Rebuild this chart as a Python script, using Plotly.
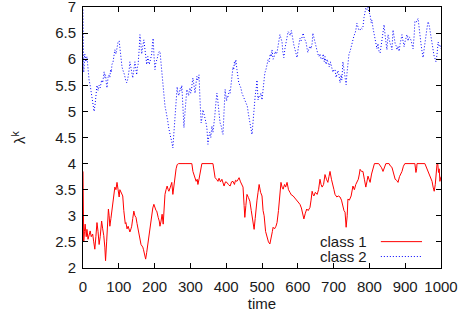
import plotly.graph_objects as go

# ---- data: class 2 (blue, dotted) ----
time_c2 = [
    0, 2, 5, 8, 11, 14, 17, 20, 23, 26,
    29, 31, 34, 37, 39, 42, 45, 48, 52, 55,
    59, 61, 63, 65, 67, 70, 72, 75, 77, 79,
    81, 84, 86, 89, 92, 95, 98, 101, 103, 106,
    109, 111, 114, 116, 119, 122, 125, 127, 129, 131,
    133, 135, 137, 139, 142, 145, 148, 150, 152, 154,
    157, 159, 161, 164, 167, 170, 172, 174, 176, 178,
    181, 183, 185, 187, 190, 192, 194, 196, 198, 201,
    204, 207, 210, 212, 215, 218, 220, 223, 225, 227,
    229, 232, 234, 237, 239, 241, 243, 245, 247, 249,
    251, 253, 255, 258, 260, 263, 265, 268, 270, 272,
    274, 276, 279, 282, 284, 286, 288, 290, 293, 295,
    297, 299, 301, 303, 305, 307, 310, 313, 316, 318,
    321, 324, 327, 330, 333, 335, 338, 340, 343, 346,
    349, 351, 354, 357, 360, 363, 366, 368, 371, 374,
    376, 379, 381, 383, 385, 387, 389, 391, 394, 397,
    399, 401, 403, 405, 407, 409, 411, 413, 416, 419,
    421, 423, 425, 427, 430, 433, 435, 438, 441, 444,
    447, 450, 452, 455, 459, 462, 466, 469, 472, 475,
    478, 481, 484, 486, 489, 491, 494, 497, 500, 504,
    508, 511, 514, 517, 520, 523, 526, 528, 531, 534,
    537, 540, 542, 545, 548, 550, 553, 556, 558, 561,
    564, 567, 570, 573, 576, 579, 582, 584, 587, 589,
    592, 595, 598, 601, 604, 606, 609, 612, 615, 618,
    621, 623, 626, 628, 631, 634, 637, 640, 642, 645,
    648, 651, 654, 656, 659, 662, 665, 668, 671, 674,
    676, 679, 682, 685, 688, 691, 695, 698, 701, 704,
    707, 710, 712, 715, 718, 721, 723, 726, 729, 732,
    735, 737, 740, 743, 746, 749, 751, 754, 757, 760,
    762, 765, 768, 771, 774, 777, 780, 782, 785, 788,
    790, 793, 796, 799, 802, 805, 807, 810, 813, 816,
    819, 821, 824, 827, 830, 833, 836, 839, 841, 844,
    847, 849, 852, 855, 858, 861, 863, 866, 869, 872,
    875, 877, 880, 883, 886, 889, 891, 894, 897, 900,
    903, 905, 908, 911, 914, 917, 920, 922, 925, 927,
    930, 933, 936, 939, 941, 944, 947, 950, 953, 955,
    958, 961, 964, 967, 969, 972, 975, 978, 981, 984,
    986, 989, 992, 995, 997, 1000,
]
lambda_c2 = [
    6.95, 5.75, 6.10, 5.95, 6.05, 5.80, 5.60, 5.50, 5.35, 5.25,
    5.05, 5.00, 5.15, 5.40, 5.50, 5.40, 5.50, 5.45, 5.60, 5.55,
    5.76, 5.65, 5.70, 5.55, 5.45, 5.65, 5.70, 5.65, 5.80, 5.75,
    5.90, 5.95, 6.05, 6.18, 6.10, 6.25, 6.33, 6.35, 6.20, 6.00,
    5.85, 5.80, 5.75, 5.70, 5.60, 5.55, 5.62, 5.70, 5.80, 5.95,
    5.85, 5.75, 5.70, 5.64, 5.80, 5.95, 5.80, 5.70, 5.85, 5.90,
    6.20, 6.47, 6.35, 6.10, 6.25, 6.37, 6.25, 6.10, 6.00, 5.90,
    6.05, 6.00, 5.90, 5.95, 6.05, 6.10, 6.30, 6.40, 6.10, 5.80,
    5.95, 6.00, 6.10, 6.14, 6.15, 5.90, 5.70, 5.50, 5.40, 5.20,
    5.10, 5.00, 4.94, 4.80, 4.70, 4.60, 4.52, 4.50, 4.45, 4.35,
    4.30, 4.50, 4.70, 5.05, 5.28, 5.47, 5.35, 5.30, 5.40, 5.45,
    5.40, 5.50, 5.10, 4.69, 4.90, 5.10, 5.30, 5.42, 5.35, 5.30,
    5.40, 5.45, 5.35, 5.40, 5.55, 5.64, 5.50, 5.35, 5.55, 5.67,
    5.60, 5.70, 5.20, 4.78, 4.90, 5.03, 4.95, 4.90, 4.80, 4.69,
    4.37, 4.50, 4.60, 4.50, 4.72, 4.60, 4.75, 4.90, 5.15, 5.35,
    5.25, 5.10, 4.90, 4.78, 4.75, 4.70, 4.60, 4.56, 5.00, 5.42,
    5.30, 5.20, 5.30, 5.28, 5.35, 5.40, 5.35, 5.47, 5.65, 5.85,
    5.80, 5.95, 5.90, 5.99, 5.80, 5.60, 5.55, 5.50, 5.45, 5.35,
    5.30, 5.25, 5.23, 5.20, 5.10, 4.95, 4.78, 4.65, 4.56, 4.80,
    5.10, 5.30, 5.45, 5.60, 5.22, 5.30, 5.28, 5.35, 5.22, 5.50,
    5.74, 5.80, 5.90, 5.99, 5.95, 6.10, 6.05, 6.18, 6.00, 6.05,
    6.15, 6.10, 6.13, 6.25, 6.35, 6.47, 6.40, 6.33, 6.15, 6.03,
    6.20, 6.30, 6.37, 6.53, 6.50, 6.45, 6.55, 6.43, 6.35, 6.27,
    6.20, 6.10, 6.03, 6.20, 6.30, 6.40, 6.35, 6.45, 6.50, 6.40,
    6.35, 6.33, 6.20, 6.13, 6.20, 6.25, 6.20, 6.30, 6.50, 6.40,
    6.30, 6.20, 6.15, 6.10, 6.05, 6.10, 6.00, 6.00, 6.10, 5.95,
    6.05, 5.90, 6.00, 5.90, 5.85, 5.95, 5.85, 5.75, 5.80, 5.80,
    5.65, 5.75, 5.78, 5.70, 5.55, 5.70, 5.60, 5.95, 5.80, 5.65,
    5.51, 5.70, 6.00, 6.10, 6.15, 6.25, 6.28, 6.35, 6.45, 6.50,
    6.55, 6.69, 6.60, 6.55, 6.56, 6.60, 6.58, 6.62, 6.80, 6.90,
    6.98, 6.95, 7.00, 6.90, 6.85, 6.70, 6.75, 6.60, 6.50, 6.37,
    6.25, 6.20, 6.30, 6.15, 6.12, 6.30, 6.45, 6.55, 6.66, 6.45,
    6.30, 6.18, 6.47, 6.35, 6.30, 6.25, 6.18, 6.56, 6.40, 6.30,
    6.25, 6.18, 6.25, 6.15, 6.30, 6.40, 6.47, 6.35, 6.24, 6.35,
    6.40, 6.47, 6.35, 6.43, 6.40, 6.35, 6.25, 6.20, 6.45, 6.72,
    6.70, 6.75, 6.78, 6.60, 6.43, 6.30, 6.15, 6.03, 6.20, 6.37,
    6.45, 6.60, 6.72, 6.65, 6.55, 6.43, 6.30, 6.10, 6.05, 6.00,
    5.95, 6.10, 6.33, 6.25, 6.27, 6.20,
]

# ---- data: class 1 (red, solid) ----
time_c1 = [
    0, 2, 4, 6, 9, 11, 14, 17, 20, 23,
    27, 30, 33, 36, 39, 42, 45, 48, 50, 52,
    55, 58, 61, 63, 66, 69, 71, 73, 75, 78,
    80, 82, 84, 87, 89, 92, 95, 98, 101, 103,
    105, 108, 111, 114, 116, 118, 120, 123, 126, 129,
    131, 134, 136, 139, 142, 145, 148, 151, 154, 157,
    159, 162, 165, 167, 169, 171, 173, 175, 178, 180,
    182, 184, 186, 189, 192, 195, 198, 201, 204, 206,
    208, 210, 213, 215, 218, 221, 224, 226, 229, 232,
    235, 238, 240, 244, 248, 251, 254, 257, 260, 263,
    267, 285, 304, 307, 311, 316, 319, 321, 324, 327,
    330, 332, 363, 366, 369, 373, 377, 380, 384, 388,
    391, 394, 398, 402, 406, 411, 415, 419, 423, 426,
    430, 433, 436, 440, 444, 447, 450, 452, 455, 458,
    462, 466, 470, 474, 478, 481, 483, 486, 489, 492,
    496, 500, 503, 506, 510, 514, 518, 522, 526, 529,
    531, 535, 539, 542, 546, 550, 553, 556, 559, 563,
    566, 570, 574, 578, 582, 587, 591, 595, 598, 602,
    606, 610, 614, 617, 621, 625, 629, 634, 637, 640,
    643, 645, 649, 654, 658, 662, 665, 668, 672, 676,
    680, 684, 687, 690, 694, 698, 701, 704, 707, 709,
    713, 718, 722, 726, 729, 732, 735, 738, 740, 744,
    749, 754, 758, 762, 765, 769, 772, 774, 778, 782,
    786, 790, 793, 796, 799, 802, 806, 810, 814, 826,
    830, 834, 838, 842, 846, 855, 859, 863, 866, 869,
    872, 876, 880, 884, 888, 891, 895, 899, 927, 929,
    930, 932, 933, 955, 958, 961, 964, 968, 972, 975,
    978, 981, 984, 987, 989, 991, 993, 995, 997, 1000,
]
lambda_c1 = [
    3.85, 2.50, 2.70, 2.84, 2.60, 2.74, 2.55, 2.65, 2.71, 2.60,
    2.65, 2.50, 2.36, 2.60, 2.87, 2.70, 2.45, 2.60, 2.75, 2.90,
    2.75, 2.62, 2.40, 2.14, 2.50, 2.90, 3.13, 3.00, 2.80, 2.95,
    3.07, 3.20, 3.36, 3.45, 3.55, 3.50, 3.64, 3.50, 3.36, 3.50,
    3.47, 3.40, 3.38, 3.10, 2.94, 2.85, 2.87, 2.75, 2.80, 2.75,
    2.69, 2.75, 2.80, 2.95, 3.09, 3.00, 2.97, 2.85, 2.74, 2.60,
    2.49, 2.45, 2.42, 2.40, 2.35, 2.30, 2.25, 2.17, 2.30, 2.40,
    2.51, 2.60, 2.74, 2.95, 3.09, 3.15, 3.22, 3.15, 3.10, 3.09,
    3.00, 2.97, 2.90, 2.80, 2.90, 3.03, 2.84, 3.10, 3.41, 3.50,
    3.57, 3.50, 3.47, 3.55, 3.64, 3.41, 3.60, 3.83, 3.90, 3.98,
    4.00, 4.00, 4.00, 3.85, 3.75, 3.66, 3.70, 3.60, 3.70, 3.79,
    3.90, 4.00, 4.00, 3.85, 3.73, 3.70, 3.66, 3.72, 3.65, 3.70,
    3.62, 3.57, 3.65, 3.64, 3.60, 3.57, 3.65, 3.66, 3.60, 3.68,
    3.66, 3.70, 3.73, 3.65, 3.60, 3.55, 3.20, 2.97, 3.20, 3.41,
    3.35, 3.28, 3.10, 2.90, 2.74, 2.95, 3.13, 3.30, 3.45, 3.60,
    3.45, 3.38, 3.10, 3.00, 2.70, 2.60, 2.50, 2.46, 2.65, 2.70,
    2.78, 2.75, 2.80, 2.87, 3.10, 3.40, 3.64, 3.55, 3.51, 3.60,
    3.55, 3.64, 3.50, 3.45, 3.40, 3.38, 3.35, 3.30, 3.28, 3.25,
    3.22, 3.15, 3.05, 2.94, 3.05, 3.13, 3.10, 3.16, 3.30, 3.47,
    3.40, 3.38, 3.45, 3.41, 3.50, 3.70, 3.60, 3.55, 3.60, 3.79,
    3.70, 3.64, 3.75, 3.85, 3.70, 3.55, 3.50, 3.41, 3.38, 3.36,
    3.38, 3.36, 3.30, 3.16, 3.10, 3.07, 2.78, 3.00, 3.32, 3.30,
    3.38, 3.57, 3.50, 3.60, 3.64, 3.70, 3.80, 3.89, 3.85, 3.85,
    3.70, 3.55, 3.65, 3.76, 3.70, 3.64, 3.80, 3.90, 4.00, 4.00,
    3.97, 3.92, 3.85, 3.95, 4.00, 4.00, 3.95, 3.93, 3.85, 3.75,
    3.70, 3.68, 3.64, 3.75, 3.80, 3.85, 3.95, 4.00, 4.00, 3.90,
    3.83, 3.90, 4.00, 4.00, 3.95, 3.90, 3.85, 3.80, 3.70, 3.66,
    3.55, 3.47, 3.60, 3.85, 4.00, 4.00, 3.83, 3.90, 3.66, 3.75,
]

x_ticks = [0, 100, 200, 300, 400, 500, 600, 700, 800, 900, 1000]
y_ticks = [2, 2.5, 3, 3.5, 4, 4.5, 5, 5.5, 6, 6.5, 7]
y_tick_labels = ["2", "2.5", "3", "3.5", "4", "4.5", "5", "5.5", "6", "6.5", "7"]
series_names = ["class 1", "class 2"]

FONT = "Liberation Sans, Arial, sans-serif"
TXT = "#1a1a1a"
RED = "#ff0000"
BLUE = "#0000ff"

fig = go.Figure()
fig.add_trace(go.Scatter(x=time_c2, y=lambda_c2, mode="lines", name=series_names[1],
                         line=dict(color=BLUE, width=1, dash="1px,2px"), showlegend=False))
fig.add_trace(go.Scatter(x=time_c1, y=lambda_c1, mode="lines", name=series_names[0],
                         line=dict(color=RED, width=1), showlegend=False))

axis_common = dict(showline=True, linecolor="black", linewidth=1, mirror="allticks",
                   ticks="inside", ticklen=5, tickcolor="black", tickwidth=1,
                   showgrid=False, zeroline=False, automargin=False,
                   ticklabeloverflow="allow",
                   tickfont=dict(family=FONT, size=15, color=TXT))

fig.update_xaxes(range=[-0.01, 1000.01], tickvals=x_ticks, ticklabelstandoff=5, **axis_common,
                 title=dict(text="time", font=dict(family=FONT, size=15, color=TXT), standoff=4))
fig.update_yaxes(range=[1.9999, 7.0001], tickvals=y_ticks, ticktext=y_tick_labels,
                 ticklabelstandoff=3, **axis_common)

# y-axis title
fig.add_annotation(text="λ<sup>k</sup>", textangle=-90, xref="paper", yref="paper",
                   x=-0.18, y=0.5, xanchor="center", yanchor="middle", showarrow=False,
                   font=dict(family=FONT, size=15, color=TXT))

# gnuplot-style legend: text left, sample right
legend_rows = [(series_names[0], 0.101, dict(color=RED, width=1, dash="solid")),
               (series_names[1], 0.044, dict(color=BLUE, width=1, dash="1px,2px"))]
for name, yy, ln in legend_rows:
    fig.add_annotation(text=name, xref="paper", yref="paper", x=0.80, y=yy,
                       xanchor="right", yanchor="middle", showarrow=False,
                       font=dict(family=FONT, size=15, color=TXT))
    fig.add_shape(type="line", xref="paper", yref="paper", x0=0.832, x1=0.947, y0=yy, y1=yy,
                  line=ln)

fig.update_layout(width=461, height=320, margin=dict(l=83, r=20, t=7, b=52, autoexpand=False),
                  paper_bgcolor="white", plot_bgcolor="white", showlegend=False)

fig.write_html("out.html", config={"displayModeBar": False},
               post_script="document.body.style.margin='0';document.body.style.overflow='hidden';")
